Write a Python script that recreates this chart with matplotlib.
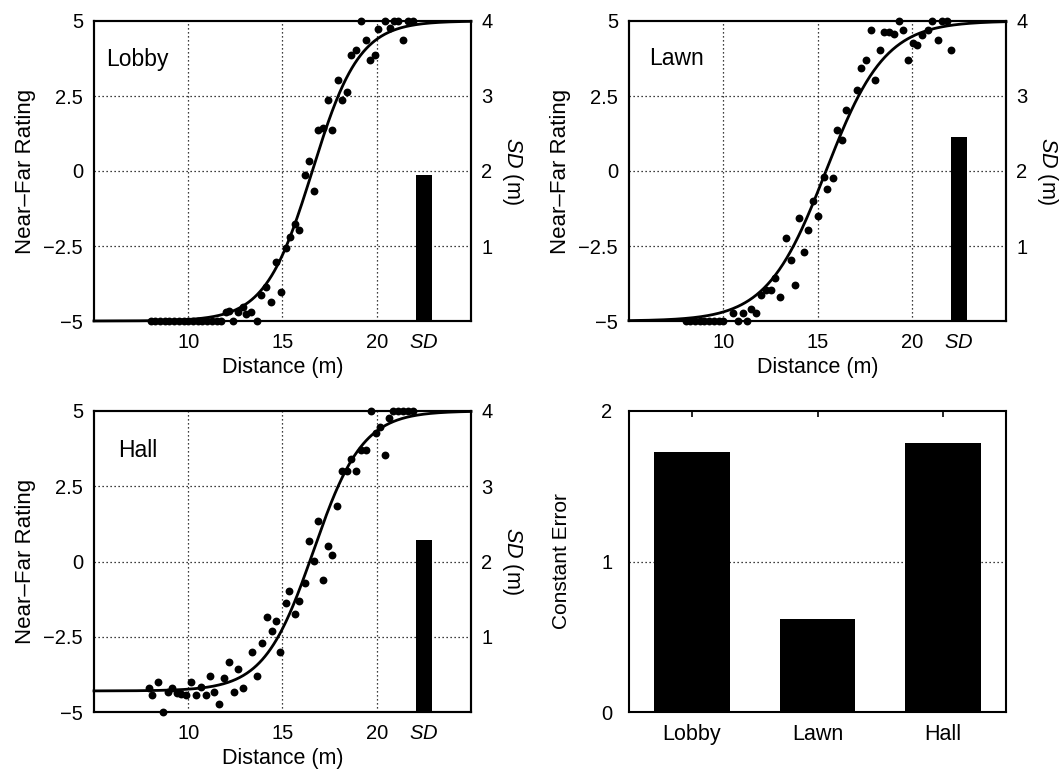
import numpy as np
import matplotlib
matplotlib.use('Agg')
import matplotlib.pyplot as plt

plt.rcParams['font.family'] = ['Liberation Sans', 'DejaVu Sans']
plt.rcParams['mathtext.fontset'] = 'custom'
plt.rcParams['mathtext.rm'] = 'Liberation Sans'
plt.rcParams['mathtext.it'] = 'Liberation Sans:italic'
plt.rcParams['font.size'] = 14.5

# ---------------- data ----------------
rooms = ['Lobby', 'Lawn', 'Hall']

# Lobby: distance (m) vs near-far rating
lobby_x = [8.0, 8.25, 8.5, 8.75, 9.0, 9.25, 9.5, 9.75, 10.0, 10.25, 10.5, 10.75, 11.0, 11.25, 11.5, 11.75,
           12.0, 12.18, 12.39, 12.62, 12.89, 13.07, 13.33, 13.65, 13.86, 14.13, 14.4, 14.9, 14.66, 15.17,
           15.38, 15.64, 15.9, 16.17, 16.4, 16.67, 16.88, 17.15, 17.63, 17.39, 17.92, 18.17, 18.43, 18.66,
           18.92, 19.41, 19.63, 19.93, 19.18, 20.07, 20.43, 20.69, 20.9, 21.13, 21.4, 21.67, 21.92]
lobby_y = [-5, -5, -5, -5, -5, -5, -5, -5, -5, -5, -5, -5, -5, -5, -5, -5,
           -4.69, -4.66, -5.0, -4.7, -4.54, -4.76, -4.7, -5.0, -4.13, -3.86, -4.36, -4.02, -3.02, -2.58,
           -2.19, -1.76, -1.97, -0.13, 0.34, -0.66, 1.37, 1.42, 1.37, 2.37, 3.03, 2.37, 2.64, 3.87,
           4.03, 4.37, 3.7, 3.87, 5.0, 4.72, 5.0, 4.76, 5.0, 5.0, 4.37, 5.0, 5.0]

# Lawn
lawn_x = [8.0, 8.25, 8.5, 8.75, 9.0, 9.25, 9.5, 9.75, 10.0,
          10.5, 10.77, 11.03, 11.26, 11.48, 11.75, 12.01, 12.28, 12.55, 12.73, 13.0, 13.32, 13.57, 13.8,
          14.03, 14.3, 14.51, 14.78, 15.05, 15.32, 15.53, 15.8, 16.03, 16.3, 16.53, 17.07, 17.32, 17.55,
          18.03, 18.32, 17.82, 18.53, 18.8, 19.07, 19.33, 19.56, 19.81, 20.04, 20.3, 20.57, 20.84, 21.1,
          21.37, 21.63, 21.87, 22.09]
lawn_y = [-5, -5, -5, -5, -5, -5, -5, -5, -5,
          -4.72, -5.0, -4.72, -5.0, -4.6, -4.72, -4.13, -3.97, -3.97, -3.58, -4.19, -2.24, -2.97, -3.8,
          -1.58, -2.69, -1.97, -1.0, -1.5, -0.19, -0.61, -0.24, 1.37, 1.03, 2.03, 2.7, 3.42, 3.7,
          3.03, 4.03, 4.7, 4.62, 4.62, 4.56, 5.0, 4.7, 3.7, 4.26, 4.2, 4.53, 4.7, 5.0,
          4.37, 5.0, 5.0, 4.03]

# Hall
hall_x = [7.93, 8.1, 8.41, 8.66, 8.9, 9.13, 9.38, 9.61, 9.87, 10.14, 10.4, 10.67, 10.94, 11.15, 11.38,
          11.65, 11.91, 12.18, 12.41, 12.66, 12.89, 13.39, 13.65, 13.92, 14.18, 14.43, 14.66, 14.89,
          15.16, 15.37, 15.64, 15.9, 16.17, 16.4, 16.67, 16.88, 17.15, 17.39, 17.64, 17.89, 18.16,
          18.43, 18.66, 18.92, 19.15, 19.41, 19.68, 19.95, 20.16, 20.43, 20.64, 20.88, 21.14, 21.4,
          21.67, 21.93]
hall_y = [-4.19, -4.44, -4.0, -5.0, -4.33, -4.19, -4.37, -4.41, -4.44, -4.0, -4.44, -4.17, -4.44, -3.8,
          -4.33, -4.74, -3.86, -3.34, -4.33, -3.56, -4.19, -3.0, -3.8, -2.7, -1.86, -2.3, -1.98, -3.0,
          -1.37, -0.99, -1.73, -1.32, -0.71, 0.68, 0.01, 1.35, -0.6, 0.52, 0.21, 1.84, 3.02,
          3.02, 3.39, 3.02, 3.7, 3.7, 5.0, 4.26, 4.48, 3.54, 4.76, 5.0, 5.0, 5.0,
          5.0, 5.0]

# fitted sigmoid parameters (lower, upper, midpoint, scale)
fit_lower = [-5.0, -5.0, -4.3]
fit_upper = [5.0, 5.0, 5.0]
fit_mid = [16.58, 15.45, 16.64]
fit_scale = [1.25, 1.57, 1.31]

sd_values = [1.95, 2.45, 2.29]          # SD (m)
const_error = [1.73, 0.62, 1.79]        # constant error

xs = [lobby_x, lawn_x, hall_x]
ys = [lobby_y, lawn_y, hall_y]

# ---------------- figure ----------------
fig = plt.figure(figsize=(10.6, 7.8), dpi=100)
W, H = 1060, 780

def box(l, t, r, b):
    return [l / W, 1 - b / H, (r - l) / W, (b - t) / H]

boxes = [box(94, 21, 471, 321), box(629, 21, 1006, 321), box(94, 411, 471, 712)]
name_pos = [(0.032, 0.85), (0.053, 0.853), (0.064, 0.847)]
dot = (0, (1, 2.2))

for i in range(3):
    ax = fig.add_axes(boxes[i])
    ax.set_xlim(5, 25)
    ax.set_ylim(-5, 5)
    for v in [10, 15, 20]:
        ax.axvline(v, color='k', lw=0.9, ls=dot, zorder=0)
    for v in [-2.5, 0, 2.5]:
        ax.axhline(v, color='k', lw=0.9, ls=dot, zorder=0)

    xx = np.linspace(5, 25, 400)
    yy = fit_lower[i] + (fit_upper[i] - fit_lower[i]) / (1 + np.exp(-(xx - fit_mid[i]) / fit_scale[i]))
    ax.plot(xx, yy, color='k', lw=2.0, zorder=3, clip_on=False)
    ax.scatter(xs[i], ys[i], s=32, color='k', zorder=4, clip_on=False, linewidths=0)

    ax.set_xticks([10, 15, 20, 22.5])
    ax.set_xticklabels(['10', '15', '20', '$\\it{SD}$'])
    ax.set_yticks([-5, -2.5, 0, 2.5, 5])
    ax.set_yticklabels(['\u22125', '\u22122.5', '0', '2.5', '5'])
    ax.tick_params(axis='x', length=0, pad=8.5)
    ax.tick_params(axis='y', length=0, pad=8)
    ax.set_xlabel('Distance (m)', fontsize=15.5, labelpad=4)
    ax.set_ylabel('Near\u2013Far Rating', fontsize=16, labelpad=5)
    ax.text(name_pos[i][0], name_pos[i][1], rooms[i], transform=ax.transAxes,
            fontsize=16.5, va='baseline')
    for s in ax.spines.values():
        s.set_linewidth(1.5)

    ax2 = ax.twinx()
    ax2.set_ylim(0, 4)
    ax2.bar([22.5], [sd_values[i]], width=0.85, color='k', zorder=2)
    ax2.set_yticks([1, 2, 3, 4])
    ax2.tick_params(length=0, pad=7.5)
    ax2.set_ylabel('$\\it{SD}$ (m)', fontsize=15.5, rotation=270, va='bottom', labelpad=5)
    for s in ax2.spines.values():
        s.set_linewidth(1.5)

# constant error bars
axb = fig.add_axes(box(629, 411, 1006, 712))
pos = np.arange(1, len(rooms) + 1)
axb.bar(pos, const_error, width=0.6, color='k', zorder=2)
axb.set_xlim(0.5, 3.5)
axb.set_ylim(0, 2)
axb.axhline(1, color='k', lw=0.9, ls=dot, zorder=0)
axb.set_xticks(pos)
axb.set_xticklabels(rooms, fontsize=15.5)
axb.set_yticks([0, 1, 2])
axb.tick_params(axis='x', direction='in', top=True, length=4, width=1.2, pad=8.5)
axb.tick_params(axis='y', length=0, pad=12)
axb.set_ylabel('Constant Error', fontsize=15, labelpad=22)
for s in axb.spines.values():
    s.set_linewidth(1.5)

fig.savefig('out.png', dpi=100)
